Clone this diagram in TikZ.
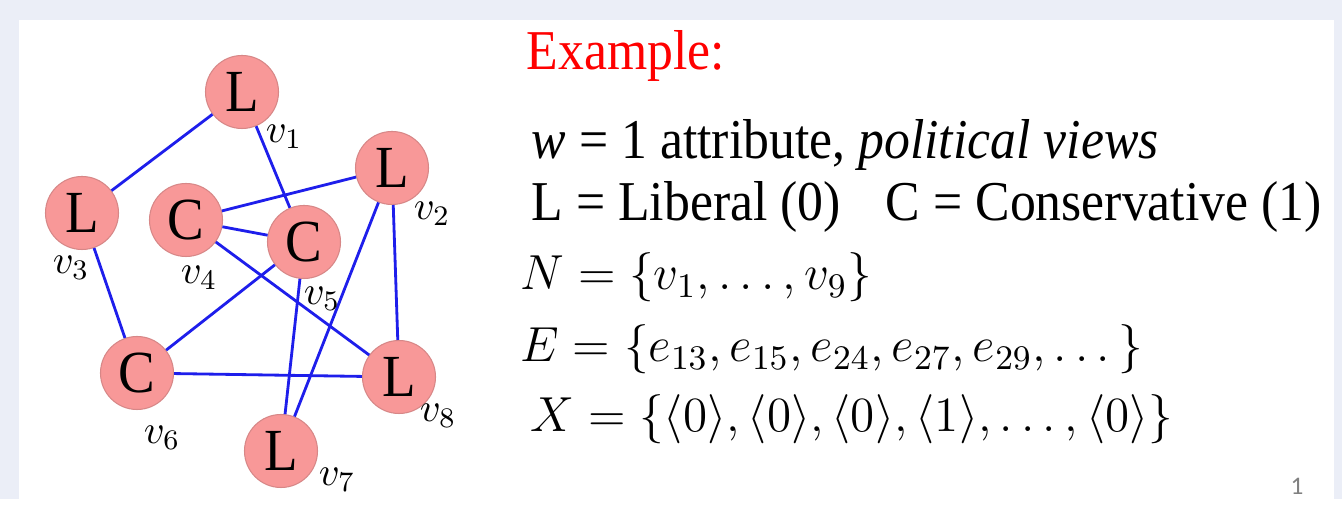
\RequirePackage{fix-cm}
\documentclass[tikz,border=0pt]{standalone}
\usepackage{amsmath}
\usepackage{fontspec}
\setmainfont{Liberation Serif}[FakeStretch=0.92]
\newfontfamily\pagefont{Carlito}

\definecolor{slidebg}{RGB}{235,238,247}
\definecolor{nodepink}{RGB}{248,152,152}
\definecolor{nodeedge}{RGB}{215,135,135}
\definecolor{edgeblue}{RGB}{30,30,235}

\begin{document}
\begin{tikzpicture}[
    vert/.style={circle, fill=nodepink, draw=nodeedge, line width=0.3pt,
        minimum size=0.73cm, inner sep=0pt, font=\fontsize{17}{19}\selectfont},
    vlabel/.style={inner sep=0pt, font=\fontsize{11.5}{13}\selectfont},
    link/.style={edgeblue, line width=0.8pt},
    line/.style={anchor=base west, inner sep=0pt, font=\fontsize{16}{19}\selectfont},
    mline/.style={anchor=base west, inner sep=0pt, font=\fontsize{14}{17}\selectfont}]
    % Slide background and white panel.
    \fill[slidebg] (0,0) rectangle (13.42,4.99);
    \fill[white] (0.19,0) rectangle (13.34,4.79);

    \node[vert] (v1) at (2.42,4.07) {L};
    \node[vert] (v2) at (3.92,3.31) {L};
    \node[vert] (v3) at (0.82,2.86) {L};
    \node[vert] (v4) at (1.86,2.79) {C};
    \node[vert] (v5) at (3.04,2.57) {C};
    \node[vert] (v6) at (1.37,1.26) {C};
    \node[vert] (v7) at (2.81,0.48) {L};
    \node[vert] (v8) at (3.99,1.22) {L};

    \draw[link] (v1) -- (v3);
    \draw[link] (v1) -- (v5);
    \draw[link] (v2) -- (v4);
    \draw[link] (v2) -- (v7);
    \draw[link] (v2) -- (v8);
    \draw[link] (v3) -- (v6);
    \draw[link] (v4) -- (v5);
    \draw[link] (v4) -- (v8);
    \draw[link] (v5) -- (v6);
    \draw[link] (v5) -- (v7);
    \draw[link] (v6) -- (v8);

    \node[vlabel] (l1) at (2.84,3.62) {$v_1$};
    \node[vlabel] (l2) at (4.32,2.85) {$v_2$};
    \node[vlabel] (l3) at (0.71,2.31) {$v_3$};
    \node[vlabel] (l4) at (1.99,2.21) {$v_4$};
    \node[vlabel] (l5) at (3.22,2.00) {$v_5$};
    \node[vlabel] (l6) at (1.62,0.61) {$v_6$};
    \node[vlabel] (l7) at (3.37,0.19) {$v_7$};
    \node[vlabel] (l8) at (4.38,0.83) {$v_8$};

    \node[line, text=red] (title) at (5.26,4.29) {Example:};
    \node[line] (attr) at (5.31,3.40) {\textit{w} = 1 attribute, \textit{political views}};
    \node[line] (vals) at (5.31,2.78) {L = Liberal (0)\hspace{0.45cm}C = Conservative (1)};
    \node[mline] (nset) at (5.20,2.09) {$N = \{v_1, \dots, v_9\}$};
    \node[mline] (eset) at (5.20,1.37) {$E = \{e_{13}, e_{15}, e_{24}, e_{27}, e_{29}, \dots\}$};
    \node[mline] (xset) at (5.30,0.67) {$X = \{\langle 0\rangle, \langle 0\rangle, \langle 0\rangle, \langle 1\rangle, \dots, \langle 0\rangle\}$};
    \node[text=gray] (pg) at (12.97,0.13) {\pagefont\fontsize{7.2}{9}\selectfont 1};
\end{tikzpicture}
\end{document}
